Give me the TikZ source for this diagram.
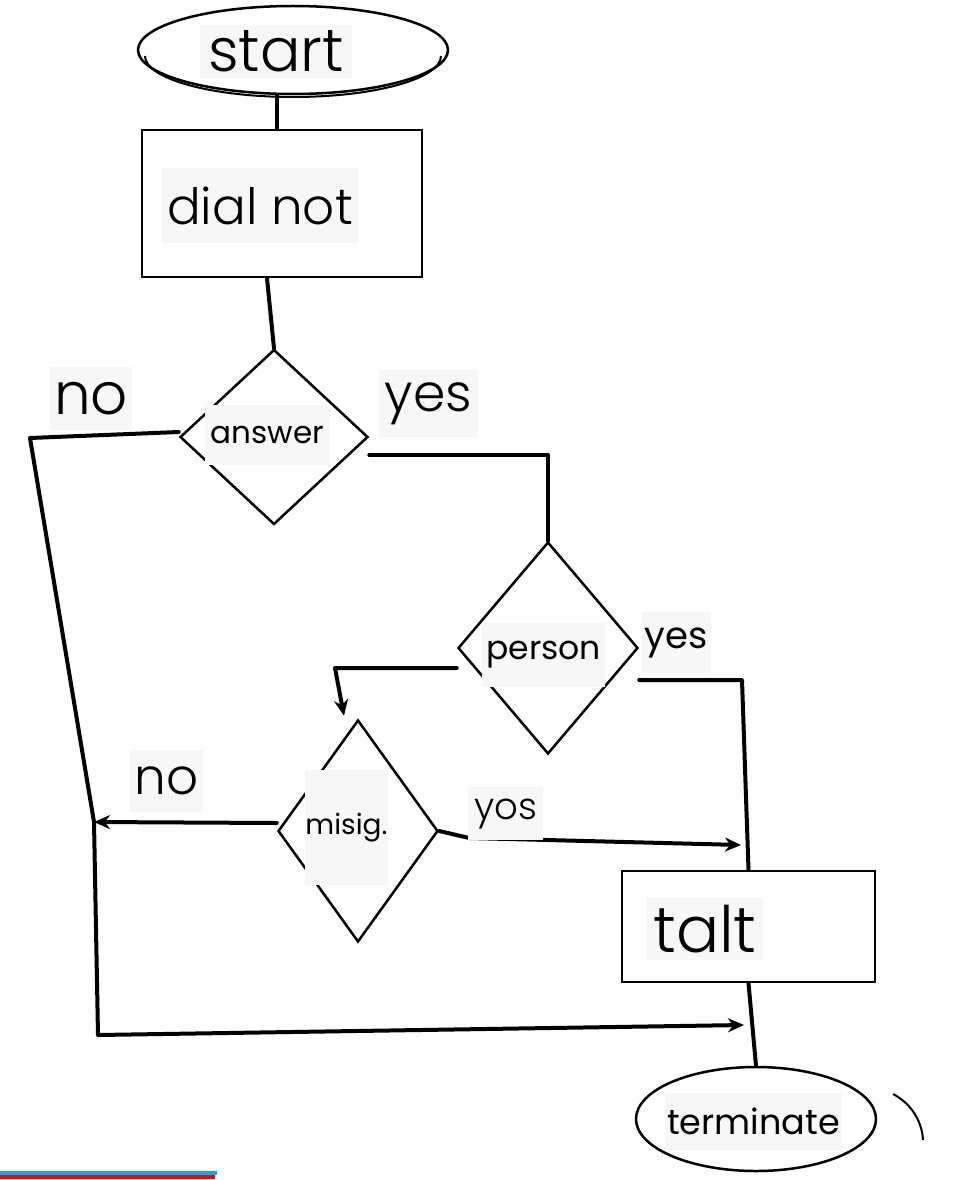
\documentclass[tikz,border=0pt]{standalone}
\usepackage{fontspec}
\setmainfont{Poppins}
\newfontfamily\thinfont{Poppins}[UprightFont={* Light}]
\usetikzlibrary{shapes.geometric,arrows.meta,calc}
\newcommand{\fs}[1]{\fontsize{#1}{#1}\selectfont}

\begin{document}
\begin{tikzpicture}[x=1pt,y=-1pt,
    shapeline/.style={draw,line width=2.5pt,inner sep=0pt},
    conn/.style={line width=4pt,line cap=round,line join=round},
    tip/.style={-{Stealth[length=16pt,width=14pt]}},
    lbl/.style={fill=black!3,inner sep=0pt,text=black}]
    \useasboundingbox (0,0) rectangle (977,1180);

    % shapes
    \node[ellipse,shapeline,minimum width=310pt,minimum height=88pt] (start) at (293,50) {};
    \node[rectangle,shapeline,minimum width=280pt,minimum height=147pt] (dial) at (282,203.5) {};
    \node[diamond,shapeline,minimum width=188pt,minimum height=175pt] (answer) at (274,437) {};
    \node[diamond,shapeline,minimum width=180pt,minimum height=212pt] (person) at (548,648) {};
    \node[diamond,shapeline,minimum width=160pt,minimum height=222pt] (misig) at (358,831) {};
    \node[rectangle,shapeline,minimum width=253pt,minimum height=111pt] (talt) at (748.5,926.5) {};
    \node[ellipse,shapeline,minimum width=240pt,minimum height=104pt] (term) at (756,1119) {};

    % shadow under start
    \draw[line width=2pt] ($(start.center)+(-148,6)$) arc[start angle=180,end angle=0,x radius=148,y radius=41];

    \coordinate (nw) at (30,438);
    \coordinate (leftmid) at (94,822);
    \coordinate (sw) at (98,1035);
    \coordinate (ne) at (548,455);
    \coordinate (pe) at (742,680);
    \coordinate (pw) at (335,668);
    \coordinate (join1) at (741,845);
    \coordinate (join2) at (744,1025);

    \draw[conn] ($(start.south)+(-16,0)$) -- ($(dial.north)+(-5,0)$);
    \draw[conn] ($(dial.south)+(-15,0)$) -- (answer.north);
    \draw[conn,tip] ($(answer.west)+(0,-5)$) -- (nw) -- (leftmid) -- (sw) -- (join2);
    \draw[conn] ($(answer.east)+(0,18)$) -- (ne) -- (person.north);
    \draw[conn] ($(person.east)+(0,32)$) -- (pe) -- (talt.north);
    \draw[conn,tip] ($(person.west)+(0,20)$) -- (pw) -- ($(misig.north)+(-14,-3)$);
    \draw[conn,tip] ($(misig.west)+(0,-8)$) -- (leftmid);
    \draw[conn,tip] (misig.east) -- ($(misig.east)+(30,7)$) -- (join1);
    \draw[conn] (talt.south) -- (term.north);

    % stray marks
    \draw[line width=2pt] (893,1094) .. controls (912,1104) and (922,1122) .. (923,1140);
    \fill[cyan] (0,1171) rectangle (217,1175);
    \fill[red] (0,1175) rectangle (215,1179);

    % labels
    \node[lbl,minimum width=152pt,minimum height=53pt,font=\thinfont\fs{60}] (startlbl) at (276,51.5) {start};
    \node[lbl,minimum width=196pt,minimum height=75pt,font=\thinfont\fs{50}] (diallbl) at (260,205.5) {dial not};
    \node[lbl,minimum width=125pt,minimum height=60pt,font=\fs{31}] (anslbl) at (267.5,435) {answer};
    \node[lbl,minimum width=82pt,minimum height=63pt,font=\thinfont\fs{58}] (nolbl1) at (91,398.5) {no};
    \node[lbl,minimum width=99pt,minimum height=67pt,font=\thinfont\fs{52}] (yeslbl1) at (428.5,403.5) {yes};
    \node[lbl,minimum width=123pt,minimum height=64pt,font=\fs{33}] (perslbl) at (543.5,655) {person};
    \node[lbl,minimum width=69pt,minimum height=61pt,font=\fs{37}] (yeslbl2) at (676.5,642.5) {yes};
    \node[lbl,minimum width=83pt,minimum height=115pt,font=\fs{28}] (misiglbl) at (346.5,827.5) {misig.};
    \node[lbl,minimum width=73pt,minimum height=62pt,font=\thinfont\fs{50}] (nolbl2) at (166.5,781) {no};
    \node[lbl,minimum width=75pt,minimum height=53pt,font=\thinfont\fs{37}] (yoslbl) at (505.5,813.5) {yos};
    \node[lbl,minimum width=116pt,minimum height=62pt,font=\thinfont\fs{64}] (taltlbl) at (705,929) {talt};
    \node[lbl,minimum width=177pt,minimum height=57pt,font=\fs{35}] (termlbl) at (753.5,1121.5) {terminate};

\end{tikzpicture}
\end{document}
